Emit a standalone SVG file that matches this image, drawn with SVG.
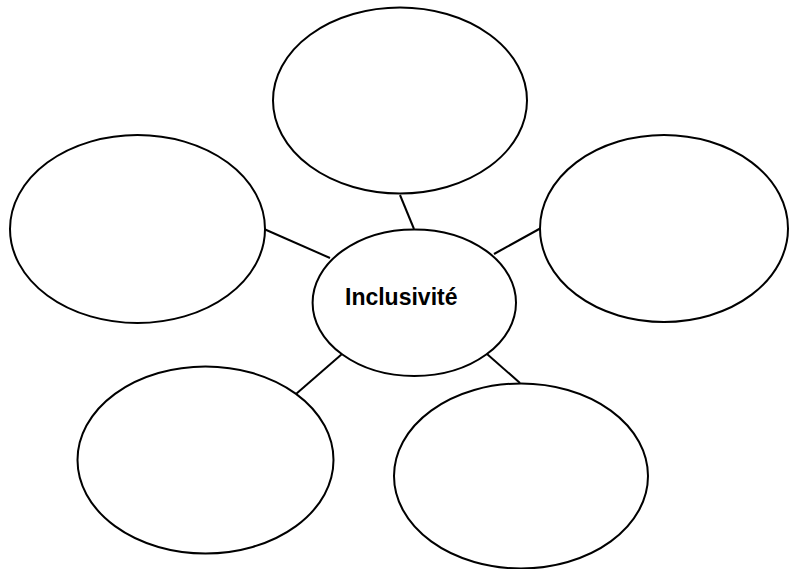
<svg xmlns="http://www.w3.org/2000/svg" width="791" height="569" viewBox="0 0 791 569">
<style>
.n{fill:#fff;stroke:#000;stroke-width:2}
.c{stroke:#000;stroke-width:2;fill:none}
.t{font-family:"Liberation Sans",Arial,sans-serif;font-weight:bold;font-size:23px;fill:#000}
</style>
<rect width="791" height="569" fill="#fff"/>
<g id="connectors">
<line class="c" x1="400" y1="195" x2="414" y2="229"/>
<line class="c" x1="264" y1="229" x2="330" y2="258"/>
<line class="c" x1="494" y1="254" x2="541" y2="228"/>
<line class="c" x1="342" y1="354" x2="296" y2="394"/>
<line class="c" x1="487" y1="354" x2="520" y2="383"/>
</g>
<g id="top"><ellipse class="n" cx="400" cy="100.5" rx="127" ry="93"/></g>
<g id="left"><ellipse class="n" cx="137.5" cy="229" rx="127.5" ry="94"/></g>
<g id="right"><ellipse class="n" cx="664" cy="228.5" rx="124" ry="93.5"/></g>
<g id="bottom-left"><ellipse class="n" cx="205.5" cy="460" rx="128" ry="93.5"/></g>
<g id="bottom-right"><ellipse class="n" cx="521" cy="476" rx="127" ry="92.5"/></g>
<g id="center"><ellipse class="n" cx="414.3" cy="302.7" rx="101.7" ry="73.3"/>
<text class="t" x="345" y="305">Inclusivité</text></g>
</svg>
